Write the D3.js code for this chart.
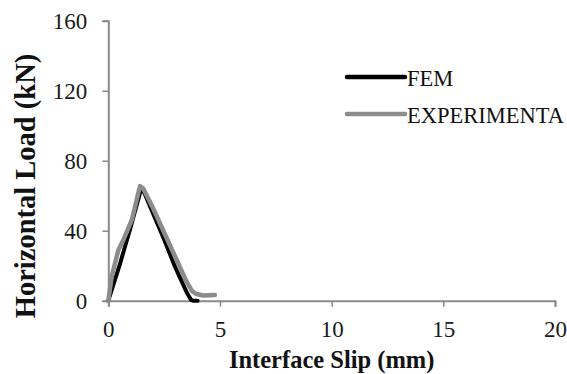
<!DOCTYPE html>
<html>
<head>
<meta charset="utf-8">
<script src="https://cdn.jsdelivr.net/npm/d3@7"></script>
<style>
  body { margin: 0; background: #fff; }
  svg { display: block; }
</style>
</head>
<body>
<div id="chart"></div>
<script>
// data
var femSlip  = [0, 0.5, 1.0, 1.45, 1.6, 2.0, 2.5, 3.0, 3.5, 3.7, 3.8, 4.0];
var femLoad  = [0, 20, 42, 63, 62, 50, 35, 19, 5, 0.5, 0, 0];
var expSlip  = [0, 0.15, 0.45, 0.67, 1.05, 1.42, 1.57, 2.0, 2.5, 3.0, 3.5, 3.75, 3.95, 4.25, 4.77];
var expLoad  = [0, 13.7, 29, 34.6, 46, 65.5, 64, 53, 39, 25, 11, 5.5, 3.8, 3, 3.2];
var xTicks = [0, 5, 10, 15, 20];
var yTicks = [0, 40, 80, 120, 160];
var seriesNames = ["FEM", "EXPERIMENTA"];

var width = 567, height = 374;
var margin = {left: 108.3, right: 12, top: 20.7, bottom: 73.3};

var svg = d3.select("#chart")
  .append("svg")
  .attr("width", width)
  .attr("height", height);

var x = d3.scaleLinear().domain([0, 20]).range([margin.left, width - margin.right]);
var y = d3.scaleLinear().domain([0, 160]).range([height - margin.bottom, margin.top]);

var axisColor = "#8a8a8a";
var serif = "'Liberation Serif', 'Times New Roman', serif";

// x axis
var xAxis = svg.append("g")
  .attr("transform", "translate(0," + y(0) + ")")
  .call(d3.axisBottom(x).tickValues(xTicks).tickSize(6).tickPadding(14));
// y axis
var yAxis = svg.append("g")
  .attr("transform", "translate(" + x(0) + ",0)")
  .call(d3.axisLeft(y).tickValues(yTicks).tickSize(6).tickPadding(15));

[xAxis, yAxis].forEach(function(a) {
  a.select(".domain").attr("stroke", axisColor).attr("stroke-width", 2);
  a.selectAll(".tick line").attr("stroke", axisColor).attr("stroke-width", 1.5);
  a.selectAll(".tick text")
    .attr("fill", "#1a1a1a")
    .style("font-family", serif)
    .style("font-size", "23px");
});

// axis titles
svg.append("text")
  .attr("x", (x(0) + x(20)) / 2)
  .attr("y", 368)
  .attr("text-anchor", "middle")
  .style("font-family", serif)
  .style("font-weight", "bold")
  .style("font-size", "24.5px")
  .attr("fill", "#111")
  .text("Interface Slip (mm)");

svg.append("text")
  .attr("transform", "translate(35,186) rotate(-90)")
  .attr("text-anchor", "middle")
  .style("font-family", serif)
  .style("font-weight", "bold")
  .style("font-size", "28.5px")
  .attr("fill", "#111")
  .text("Horizontal Load (kN)");

// series
var line = d3.line()
  .x(function(d) { return x(d[0]); })
  .y(function(d) { return y(d[1]); });

var femData = femSlip.map(function(s, i) { return [s, femLoad[i]]; });
var expData = expSlip.map(function(s, i) { return [s, expLoad[i]]; });

var colors = ["#000000", "#8c8c8c"];

svg.append("path")
  .datum(femData)
  .attr("d", line)
  .attr("fill", "none")
  .attr("stroke", colors[0])
  .attr("stroke-width", 4)
  .attr("stroke-linejoin", "round")
  .attr("stroke-linecap", "round");

svg.append("path")
  .datum(expData)
  .attr("d", line)
  .attr("fill", "none")
  .attr("stroke", colors[1])
  .attr("stroke-width", 4.5)
  .attr("stroke-linejoin", "round")
  .attr("stroke-linecap", "round");

// legend
var legend = svg.append("g");
seriesNames.forEach(function(name, i) {
  var ly = 77 + i * 37;
  legend.append("line")
    .attr("x1", 347).attr("x2", 405)
    .attr("y1", ly).attr("y2", ly)
    .attr("stroke", colors[i])
    .attr("stroke-width", 4.5)
    .attr("stroke-linecap", "round");
  legend.append("text")
    .attr("x", 407)
    .attr("y", ly + 9)
    .style("font-family", serif)
    .style("font-size", "22.5px")
    .attr("fill", "#111")
    .text(name);
});
</script>
</body>
</html>
